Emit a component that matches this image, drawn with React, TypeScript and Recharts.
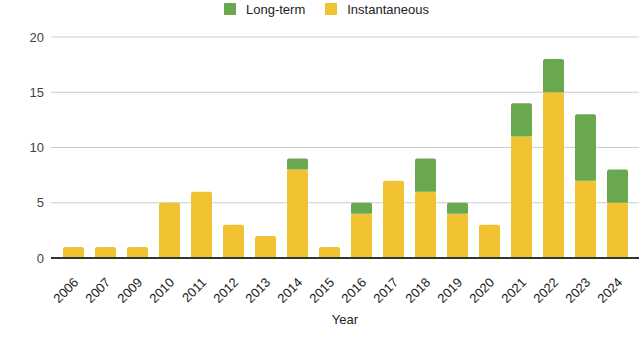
import React from "react";
import { BarChart, Bar, XAxis, YAxis, CartesianGrid, Legend } from "recharts";

const years = ["2006","2007","2009","2010","2011","2012","2013","2014","2015","2016","2017","2018","2019","2020","2021","2022","2023","2024"];
const instantaneous = [1,1,1,5,6,3,2,8,1,4,7,6,4,3,11,15,7,5];
const longTerm = [0,0,0,0,0,0,0,1,0,1,0,3,1,0,3,3,6,3];
const yTicks = [0,5,10,15,20];

const GREEN = "#6aa84f";
const YELLOW = "#f1c232";
const FONT = "'Liberation Sans', Arial, sans-serif";

const data = years.map((y, i) => ({ year: y, instant: instantaneous[i], longterm: longTerm[i] }));

const legendItems = [
  { name: "Long-term", color: GREEN },
  { name: "Instantaneous", color: YELLOW },
];

const renderLegend = () => (
  <div style={{ display: "flex", justifyContent: "flex-start", height: 18, fontFamily: FONT, fontSize: 13, color: "#222", paddingLeft: 224 }}>
    {legendItems.map((it) => (
      <div key={it.name} style={{ display: "flex", alignItems: "center", marginRight: 20 }}>
        <span style={{ width: 12, height: 12, background: it.color, display: "inline-block", marginRight: 10, borderRadius: 1 }} />
        <span>{it.name}</span>
      </div>
    ))}
  </div>
);

const XTick = (props: any) => {
  const { x, y, payload } = props;
  return (
    <g transform={`translate(${x + 3},${y + 14})`}>
      <text x={0} y={0} dy="0.35em" textAnchor="end" transform="rotate(-45)" fontFamily={FONT} fontSize={13} fill="#222">
        {payload.value}
      </text>
    </g>
  );
};

export default function App() {
  return (
    <div style={{ position: "absolute", left: 0, top: 0, width: 640, height: 352, background: "#fff" }}>
      <BarChart width={640} height={352} data={data} margin={{ top: 19, right: 1, bottom: 0, left: 0 }} barSize={21}>
        <Legend verticalAlign="top" align="center" content={renderLegend} wrapperStyle={{ top: 0, left: 0, width: 640, height: 18 }} />
        <CartesianGrid vertical={false} stroke="#cccccc" strokeWidth={1} />
        <XAxis
          dataKey="year"
          interval={0}
          height={94}
          tick={<XTick />}
          tickLine={false}
          axisLine={{ stroke: "#333333", strokeWidth: 2 }}
          padding={{ left: 6, right: 6 }}
          label={{ value: "Year", position: "insideBottom", offset: 28, fontFamily: FONT, fontSize: 13, fill: "#222" }}
        />
        <YAxis
          width={51}
          domain={[0, 20]}
          ticks={yTicks}
          tickLine={false}
          axisLine={false}
          tickSize={0}
          tickMargin={7}
          tick={{ fontFamily: FONT, fontSize: 13, fill: "#444" }}
        />
        <Bar dataKey="instant" stackId="a" fill={YELLOW} isAnimationActive={false} radius={[2, 2, 0, 0]} />
        <Bar dataKey="longterm" stackId="a" fill={GREEN} isAnimationActive={false} radius={[2, 2, 0, 0]} />
      </BarChart>
    </div>
  );
}
